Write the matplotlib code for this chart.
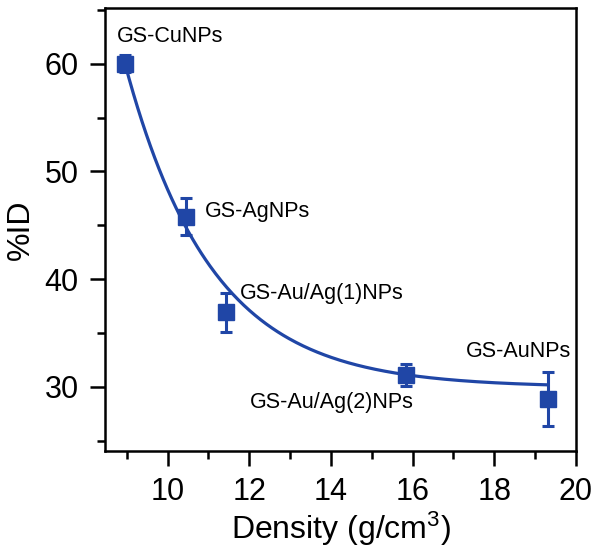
import numpy as np
import matplotlib
matplotlib.use("Agg")
import matplotlib.pyplot as plt

plt.rcParams['font.family'] = ['Liberation Sans', 'DejaVu Sans']
plt.rcParams['mathtext.fontset'] = 'custom'
plt.rcParams['mathtext.rm'] = 'Liberation Sans'
plt.rcParams['mathtext.it'] = 'Liberation Sans'

# Data
labels = ["GS-CuNPs", "GS-AgNPs", "GS-Au/Ag(1)NPs", "GS-Au/Ag(2)NPs", "GS-AuNPs"]
density = [8.96, 10.45, 11.44, 15.83, 19.31]
pct_id = [60.0, 45.8, 36.9, 31.1, 28.9]
pct_err = [0.8, 1.7, 1.85, 1.0, 2.5]

# Exponential-decay fit parameters: y = y0 + A*exp(-(x - x0)/t)
fit_y0 = 29.95
fit_A = 30.05
fit_x0 = 8.96
fit_t = 2.12

# label anchor positions (data coords, left / vertical-centre)
label_x = [8.75, 10.92, 11.78, 12.02, 17.30]
label_y = [62.5, 46.3, 38.7, 28.5, 33.3]

color = '#2046a6'

fig = plt.figure(figsize=(6.0, 5.6), dpi=100)
ax = fig.add_axes([0.175, 0.195, 0.785, 0.791])

xf = np.linspace(density[0], density[-1], 300)
yf = fit_y0 + fit_A * np.exp(-(xf - fit_x0) / fit_t)
ax.plot(xf, yf, color=color, lw=2.3, zorder=2)

ax.errorbar(density, pct_id, yerr=pct_err, fmt='s', color=color, ms=11,
            elinewidth=2.2, capsize=4.5, capthick=2.2, zorder=3)

for lab, lx, ly in zip(labels, label_x, label_y):
    ax.text(lx, ly, lab, fontsize=15.5, va='center', ha='left', color='black')

ax.set_xlim(8.47, 20.0)
ax.set_ylim(24.05, 65.2)
ax.set_xticks([10, 12, 14, 16, 18, 20])
ax.set_xticks([9, 11, 13, 15, 17, 19], minor=True)
ax.set_yticks([30, 40, 50, 60])
ax.set_yticks([25, 35, 45, 55, 65], minor=True)

for s in ax.spines.values():
    s.set_linewidth(1.8)
ax.tick_params(which='major', direction='out', length=11, width=1.8,
               labelsize=22)
ax.tick_params(which='minor', direction='out', length=6, width=1.8)
ax.tick_params(axis='x', which='major', pad=8)
ax.tick_params(axis='y', which='major', pad=8)

ax.set_xlabel('Density (g/cm$^{3}$)', fontsize=23, labelpad=2)
ax.set_ylabel('%ID', fontsize=23, labelpad=6)

fig.savefig('out.png', dpi=100)
